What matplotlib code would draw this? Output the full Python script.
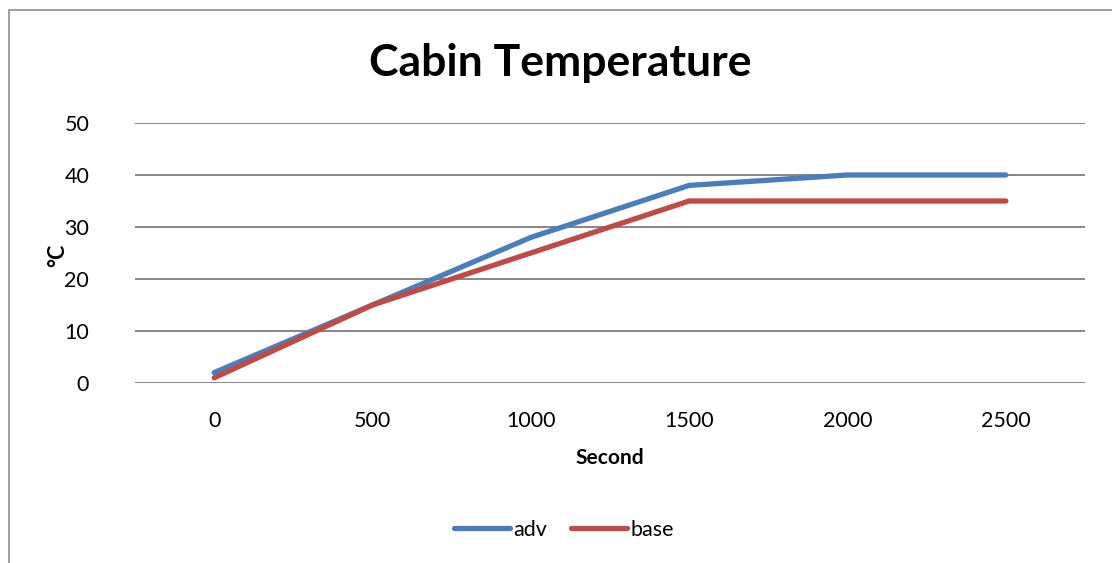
import matplotlib
matplotlib.use("Agg")
import matplotlib.pyplot as plt
from matplotlib.patches import Rectangle

# Chart data
seconds = ["0", "500", "1000", "1500", "2000", "2500"]
adv = [2, 15, 28, 38, 40, 40]
base = [1, 15, 25, 35, 35, 35]
y_ticks = [0, 10, 20, 30, 40, 50]

FONT = "Lato"
BLUE = "#4A7EBB"
RED = "#BE4B48"
GRID = "#868686"

W, H = 1112, 563
fig = plt.figure(figsize=(W / 100, H / 100), dpi=100)
fig.patch.set_facecolor("white")

# outer chart frame (extends past the right and bottom edges)
fig.patches.append(Rectangle((9 / W, -0.1), 1.2, (H - 10) / H + 0.1,
                             transform=fig.transFigure, fill=False,
                             edgecolor="#8C8C8C", linewidth=1.2))

ax = fig.add_axes([135 / W, 1 - 383 / H, 950 / W, 260 / H])
x = list(range(len(seconds)))
ax.plot(x, adv, color=BLUE, lw=3.8, solid_capstyle="round",
        solid_joinstyle="round", label="adv", zorder=3)
ax.plot(x, base, color=RED, lw=3.8, solid_capstyle="round",
        solid_joinstyle="round", label="base", zorder=3)

ax.set_xlim(-0.5, len(seconds) - 0.5)
ax.set_ylim(0, 50)
ax.set_yticks(y_ticks)
ax.set_xticks(x)
ax.set_xticklabels(seconds)
ax.yaxis.grid(True, color=GRID, linewidth=1.4)
ax.set_axisbelow(True)
for s in ax.spines.values():
    s.set_visible(False)
ax.tick_params(length=0, labelsize=15.5, colors="black")
ax.tick_params(axis="y", pad=33)
ax.tick_params(axis="x", pad=20)
for lab in ax.get_xticklabels() + ax.get_yticklabels():
    lab.set_fontfamily(FONT)

fig.text(560 / W, 1 - 63 / H, "Cabin Temperature", ha="center", va="center",
         fontsize=32, fontweight="bold", fontfamily=FONT)
fig.text(610 / W, 1 - 458 / H, "Second", ha="center", va="center",
         fontsize=15, fontweight="bold", fontfamily=FONT)
fig.text(58 / W, 1 - 255 / H, "°C", ha="center", va="center", rotation=90,
         fontsize=15.5, fontweight="bold", fontfamily=FONT)

leg = fig.legend(loc="center", bbox_to_anchor=(564 / W, 1 - 530 / H), ncol=2,
                 frameon=False, handlelength=2.6, handletextpad=0.15,
                 columnspacing=1.1, prop={"family": FONT, "size": 15.5})

fig.savefig("out.png", dpi=100, facecolor="white")
